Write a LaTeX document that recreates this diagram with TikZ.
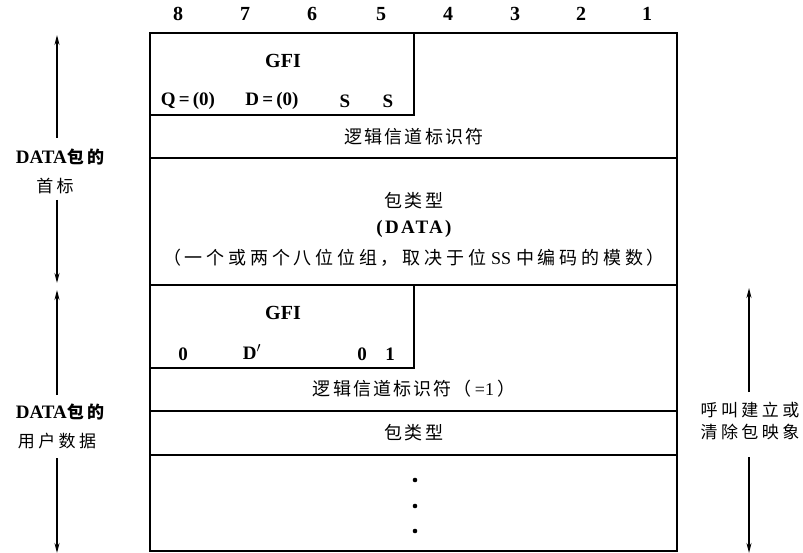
\documentclass[tikz,border=0pt]{standalone}
\usepackage{fontspec}
\setmainfont{Liberation Serif}
\newfontfamily\cjk[LetterSpace=12]{Noto Sans CJK SC}
\newfontfamily\cjkside[LetterSpace=20]{Noto Sans CJK SC}
\newfontfamily\cjknote[LetterSpace=21]{Noto Sans CJK SC}
\newfontfamily\serifwide[LetterSpace=12]{Liberation Serif}
\usetikzlibrary{arrows.meta}
\begin{document}
\begin{tikzpicture}[x=1pt,y=-1pt,
 frame/.style={line width=2.6pt},
 rule/.style={line width=1.5pt},
 lbl/.style={inner sep=0pt,anchor=center},
 hdr/.style={lbl,font=\fontsize{20}{20}\selectfont\bfseries},
 gfi/.style={lbl,font=\fontsize{20}{20}\selectfont\bfseries},
 bit/.style={lbl,font=\fontsize{19}{19}\selectfont\bfseries},
 zh/.style={lbl,font=\fontsize{18}{18}\selectfont\cjk},
 side/.style={lbl,font=\fontsize{17}{17}\selectfont\cjkside},
 arr/.style={line width=1.4pt,-{Stealth[length=10pt,width=5pt]}}]
\useasboundingbox (0,0) rectangle (803,553);
% frame
\draw[frame] (150,33) rectangle (677,551);
\draw[rule] (150,115) -- (414,115) -- (414,33);
\draw[rule] (150,158) -- (677,158);
\draw[rule] (150,285) -- (677,285);
\draw[rule] (414,285) -- (414,368) -- (150,368);
\draw[rule] (150,411) -- (677,411);
\draw[rule] (150,455) -- (677,455);
% header bit numbers
\node[hdr] (h8) at (178,14) {8};
\node[hdr] (h7) at (245,14) {7};
\node[hdr] (h6) at (312,14) {6};
\node[hdr] (h5) at (381,14) {5};
\node[hdr] (h4) at (448,14) {4};
\node[hdr] (h3) at (515,14) {3};
\node[hdr] (h2) at (581,14) {2};
\node[hdr] (h1) at (647,14) {1};
% header GFI
\node[gfi] (gfia) at (283,61) {GFI};
\node[bit] (q) at (188,101) {Q\,=\,(0)};
\node[bit] (d) at (272,101) {D\,=\,(0)};
\node[bit] (s1) at (345,101) {S};
\node[bit] (s2) at (388,101) {S};
\node[zh] (lci) at (414,137) {逻辑信道标识符};
\node[zh] (pt) at (414,201) {包类型};
\node[lbl,font=\fontsize{19}{19}\selectfont\serifwide\bfseries] (data) at (414,229) {(DATA)};
\node[lbl,font=\fontsize{18}{18}\selectfont\cjknote] (note) at (414,258) {（一个或两个八位位组，取决于位\hspace{5pt}{\rmfamily SS}\hspace{5pt}中编码的模数）};
% user data GFI
\node[gfi] (gfib) at (283,313) {GFI};
\node[bit] (b0a) at (183,354) {0};
\node[bit] (bd) at (252,352) {D$'$};
\node[bit] (b0b) at (362,354) {0};
\node[bit] (b1) at (390,354) {1};
\node[zh] (lci2) at (414,389) {逻辑信道标识符（\,{\rmfamily =1}\,）};
\node[zh] (pt2) at (414,433) {包类型};
\fill (415,480) circle (2.3pt) (415,506) circle (2.3pt) (415,531) circle (2.3pt);
% left labels
\node[side] (hdrA) at (60,157) {{\rmfamily\bfseries\fontsize{19}{19}\selectfont DATA}{\bfseries 包的}};
\node[side] (hdrB) at (55,186) {首标};
\node[side] (udA) at (60,412) {{\rmfamily\bfseries\fontsize{19}{19}\selectfont DATA}{\bfseries 包的}};
\node[side] (udB) at (57,441) {用户数据};
\coordinate (a1s) at (57,138); \coordinate (a1e) at (57,35);
\coordinate (a2s) at (57,200); \coordinate (a2e) at (57,283);
\coordinate (a3s) at (57,395); \coordinate (a3e) at (57,290);
\coordinate (a4s) at (57,458); \coordinate (a4e) at (57,553);
\draw[arr] (a1s) -- (a1e);
\draw[arr] (a2s) -- (a2e);
\draw[arr] (a3s) -- (a3e);
\draw[arr] (a4s) -- (a4e);
% right labels
\node[side] (rA) at (750,410) {呼叫建立或};
\node[side] (rB) at (750,432) {清除包映象};
\coordinate (r1s) at (749,392); \coordinate (r1e) at (749,288);
\coordinate (r2s) at (749,457); \coordinate (r2e) at (749,553);
\draw[arr] (r1s) -- (r1e);
\draw[arr] (r2s) -- (r2e);
\end{tikzpicture}
\end{document}
